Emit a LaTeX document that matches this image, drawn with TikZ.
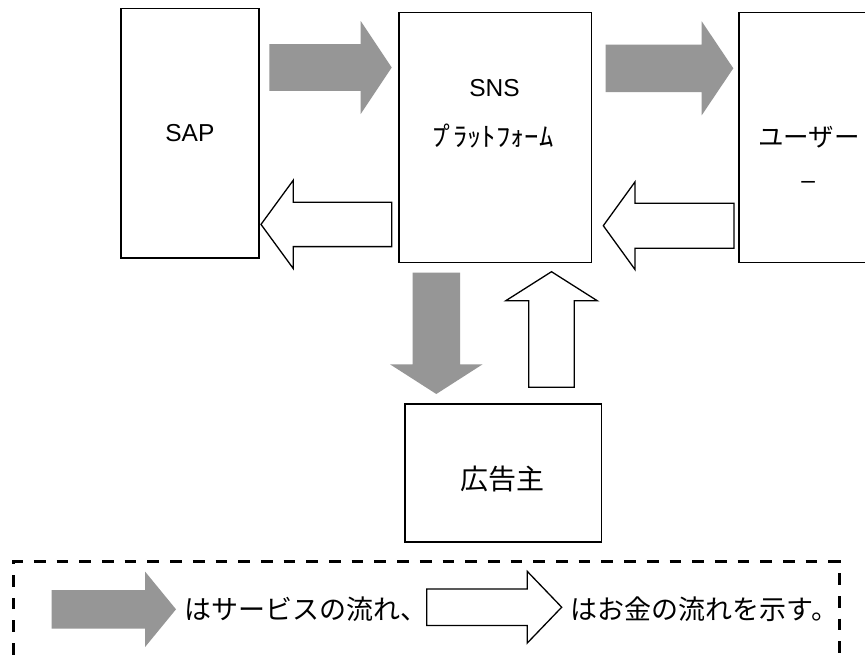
\documentclass[tikz,border=0pt]{standalone}
\usepackage{fontspec}
\usepackage{graphicx}
\setmainfont{Liberation Sans}
\newfontfamily\jfont{Noto Sans CJK JP}
\usetikzlibrary{calc}

\definecolor{flowgray}{RGB}{150,150,150}

\tikzset{
  unitbox/.style={draw=black, line width=1.5pt, inner sep=0pt, fill=white},
  latinlabel/.style={font=\fontsize{24.5pt}{29pt}\selectfont, inner sep=0pt},
  jlabel/.style={font=\jfont\fontsize{25.5pt}{30pt}\selectfont, inner sep=0pt},
  adlabel/.style={font=\jfont\fontsize{28pt}{33pt}\selectfont, inner sep=0pt},
  legendlabel/.style={font=\jfont\fontsize{27pt}{32pt}\selectfont, inner sep=0pt},
  hwlabel/.style={font=\jfont\fontsize{26.5pt}{31pt}\selectfont, inner sep=0pt},
  service/.style={fill=flowgray, draw=none},
  money/.style={fill=white, draw=black, line width=1.3pt, line join=miter},
  framedash/.style={line width=2.8pt, dash pattern=on 11.7pt off 11pt},
}

% block arrow: style, tail, tip, shaft half width, head half width, head length
\newcommand\blockarrow[6]{%
  \coordinate (hb) at ($(#3)!#6!(#2)$);
  \path[#1] ($(#2)!#4!-90:(#3)$) -- ($(hb)!#4!90:(#2)$) -- ($(hb)!#5!90:(#2)$)
    -- (#3) -- ($(hb)!#5!-90:(#2)$) -- ($(hb)!#4!-90:(#2)$)
    -- ($(#2)!#4!90:(#3)$) -- cycle;}

\begin{document}
\begin{tikzpicture}[x=1pt, y=-1pt]
\clip (0,0) rectangle (865,656);
\fill[white] (0,0) rectangle (865,656);

% parties
\node[unitbox, latinlabel, minimum width=138.3pt, minimum height=249.7pt] (sap) at (189.9,133.2) {SAP};
\node[unitbox, minimum width=192.7pt, minimum height=250pt] (sns) at (495.3,137.3) {};
\node[latinlabel] (snsA) at (494.5,88.5) {SNS};
\node[hwlabel] (snsB) at (493,136.5) {\resizebox{121pt}{\height}{ﾌ\kern-0.1emﾟ\kern-0.18emﾗｯﾄﾌｫｰﾑ}};
\node[unitbox, minimum width=193pt, minimum height=250pt] (user) at (835.5,137.3) {};
\node[jlabel] (userA) at (809,137) {ユーザー};
\node[latinlabel] (userB) at (808.3,185) {–};
\node[unitbox, minimum width=196.7pt, minimum height=137.7pt] (ad) at (503.3,472.9) {};
\node[adlabel] (adA) at (502.9,479.3) {広告主};

% service flows (grey)
\coordinate (s1a) at (269.3,67.5);  \coordinate (s1b) at (391.7,67.5);
\blockarrow{service}{s1a}{s1b}{23.3pt}{46.5pt}{31pt}
\coordinate (s2a) at (605.7,68.3);  \coordinate (s2b) at (733.3,68.3);
\blockarrow{service}{s2a}{s2b}{23.8pt}{47pt}{31.6pt}
\coordinate (s3a) at (436.3,272.7); \coordinate (s3b) at (436.3,394);
\blockarrow{service}{s3a}{s3b}{23.7pt}{46.3pt}{29.7pt}

% money flows (white)
\coordinate (m1a) at (391.7,224.4); \coordinate (m1b) at (261,224.4);
\blockarrow{money}{m1a}{m1b}{22.2pt}{44.2pt}{32.3pt}
\coordinate (m2a) at (734,225.7);   \coordinate (m2b) at (603.3,225.7);
\blockarrow{money}{m2a}{m2b}{22.5pt}{43.8pt}{31.7pt}
\coordinate (m3a) at (551.5,387.3); \coordinate (m3b) at (551.5,271.7);
\blockarrow{money}{m3a}{m3b}{22.8pt}{45.7pt}{29pt}

% legend
\draw[framedash] (13.3,700) -- (13.3,561.7) -- (839.5,561.7) -- (839.5,700);
\coordinate (k1a) at (51.7,609.3);  \coordinate (k1b) at (176,609.3);
\blockarrow{service}{k1a}{k1b}{19.2pt}{37.8pt}{31pt}
\node[legendlabel, anchor=west] (lg1) at (184.5,609) {はサービスの流れ、};
\coordinate (k2a) at (426.7,607.2); \coordinate (k2b) at (561.7,607.2);
\blockarrow{money}{k2a}{k2b}{18.3pt}{35.8pt}{34.4pt}
\node[legendlabel, anchor=west] (lg2) at (570.5,609) {はお金の流れを示す。};
\end{tikzpicture}
\end{document}
